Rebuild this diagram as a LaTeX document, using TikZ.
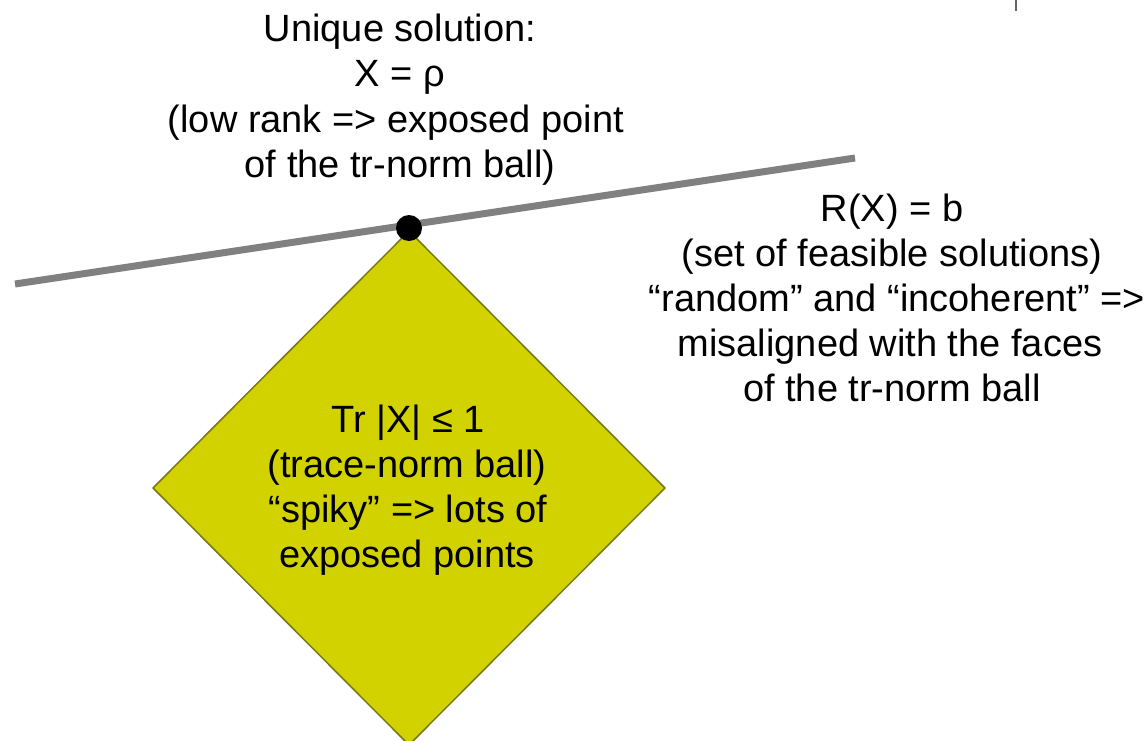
\documentclass[tikz,border=0pt]{standalone}
\usepackage{fontspec}
\setmainfont{Liberation Sans}
\definecolor{ballfill}{RGB}{210,210,0}
\definecolor{balledge}{RGB}{120,120,20}
\definecolor{linegray}{RGB}{128,128,128}
\begin{document}
\begin{tikzpicture}[x=1pt,y=-1pt,
  txt/.style={anchor=base,inner sep=0pt,font=\fontsize{38}{45}\selectfont,text=black}]
\useasboundingbox (0,0) rectangle (1145,741);
% trace-norm ball
\coordinate (top) at (409,231);
\coordinate (right) at (665,488);
\coordinate (bottom) at (409,745);
\coordinate (left) at (153,488);
\begin{scope}
\clip (0,0) rectangle (1145,741);
\fill[ballfill,draw=balledge,line width=1.5pt,line join=round] (top) -- (right) -- (bottom) -- (left) -- cycle;
\end{scope}
% feasible set line
\coordinate (la) at (15,284);
\coordinate (lb) at (855,158);
\draw[linegray,line width=7pt] (la) -- (lb);
% unique solution point
\fill[black] (409,228) circle (13);
% tick top right
\coordinate (ta) at (1016,0);
\coordinate (tb) at (1016,11);
\draw[linegray!80!black,line width=2pt] (ta) -- (tb);
% text block 1
\node[txt] (u1) at (400,42) {Unique solution:};
\node[txt] (u2) at (400,87) {X = ρ};
\node[txt] (u3) at (396,132) {(low rank => exposed point};
\node[txt] (u4) at (400,177) {of the tr-norm ball)};
% text block 2
\node[txt] (r1) at (892,221) {R(X) = b};
\node[txt] (r2) at (892,266) {(set of feasible solutions)};
\node[txt] (r3) at (897,311) {“random” and “incoherent” =>};
\node[txt] (r4) at (890,356) {misaligned with the faces};
\node[txt] (r5) at (892,401) {of the tr-norm ball};
% text block 3
\node[txt] (t1) at (408,432) {Tr |X| ≤ 1};
\node[txt] (t2) at (407,477) {(trace-norm ball)};
\node[txt] (t3) at (408,522) {“spiky” => lots of};
\node[txt] (t4) at (407,567) {exposed points};
\end{tikzpicture}
\end{document}
